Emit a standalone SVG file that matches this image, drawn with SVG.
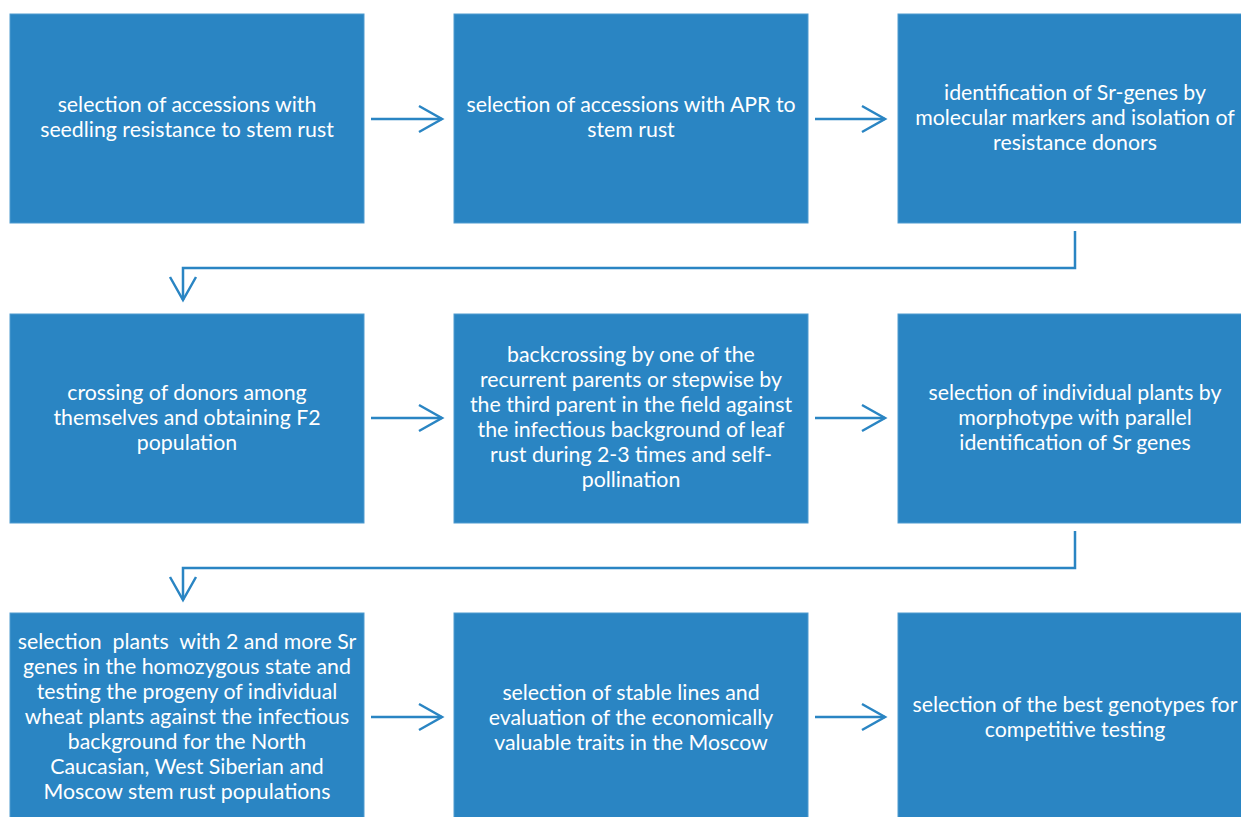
<svg xmlns="http://www.w3.org/2000/svg" width="1241" height="817" viewBox="0 0 1241 817">
<defs>
<style>
.box{fill:#2a85c3;stroke:#4f9bd0;stroke-width:1}
.t{font-family:Lato,"Open Sans",sans-serif;font-size:21.3px;fill:#ffffff;text-anchor:middle}
.c{fill:none;stroke:#2a85c3;stroke-width:2.5}
</style>
<marker id="ah" markerUnits="userSpaceOnUse" markerWidth="30" markerHeight="30" viewBox="0 0 30 30" refX="24" refY="15" orient="auto">
<path d="M1,2 L24,15 L1,28" fill="none" stroke="#2a85c3" stroke-width="2.5"/>
</marker>
</defs>
<rect width="1241" height="817" fill="#ffffff"/>
<g id="n1"><rect class="box" x="10" y="14" width="354" height="209"/>
<text class="t"><tspan x="187" y="112">selection of accessions with</tspan><tspan x="187" y="137">seedling resistance to stem rust</tspan></text></g>
<g id="n2"><rect class="box" x="454" y="14" width="354" height="209"/>
<text class="t"><tspan x="631" y="112">selection of accessions with APR to</tspan><tspan x="631" y="137">stem rust</tspan></text></g>
<g id="n3"><rect class="box" x="898" y="14" width="354" height="209"/>
<text class="t"><tspan x="1075" y="100">identification of Sr-genes by</tspan><tspan x="1075" y="125">molecular markers and isolation of</tspan><tspan x="1075" y="150">resistance donors</tspan></text></g>
<g id="n4"><rect class="box" x="10" y="314" width="354" height="209"/>
<text class="t"><tspan x="187" y="400">crossing of donors among</tspan><tspan x="187" y="425">themselves and obtaining F2</tspan><tspan x="187" y="450">population</tspan></text></g>
<g id="n5"><rect class="box" x="454" y="314" width="354" height="209"/>
<text class="t"><tspan x="631" y="362">backcrossing by one of the</tspan><tspan x="631" y="387">recurrent parents or stepwise by</tspan><tspan x="631" y="412">the third parent in the field against</tspan><tspan x="631" y="437">the infectious background of leaf</tspan><tspan x="631" y="462">rust during 2-3 times and self-</tspan><tspan x="631" y="487">pollination</tspan></text></g>
<g id="n6"><rect class="box" x="898" y="314" width="354" height="209"/>
<text class="t"><tspan x="1075" y="400">selection of individual plants by</tspan><tspan x="1075" y="425">morphotype with parallel</tspan><tspan x="1075" y="450">identification of Sr genes</tspan></text></g>
<g id="n7"><rect class="box" x="10" y="613" width="354" height="215"/>
<text class="t" style="white-space:pre"><tspan x="187" y="649">selection  plants  with 2 and more Sr</tspan><tspan x="187" y="674">genes in the homozygous state and</tspan><tspan x="187" y="699">testing the progeny of individual</tspan><tspan x="187" y="724">wheat plants against the infectious</tspan><tspan x="187" y="749">background for the North</tspan><tspan x="187" y="774">Caucasian, West Siberian and</tspan><tspan x="187" y="799">Moscow stem rust populations</tspan></text></g>
<g id="n8"><rect class="box" x="454" y="613" width="354" height="215"/>
<text class="t"><tspan x="631" y="700">selection of stable lines and</tspan><tspan x="631" y="725">evaluation of the economically</tspan><tspan x="631" y="750">valuable traits in the Moscow</tspan></text></g>
<g id="n9"><rect class="box" x="898" y="613" width="354" height="215"/>
<text class="t"><tspan x="1075" y="712">selection of the best genotypes for</tspan><tspan x="1075" y="737">competitive testing</tspan></text></g>
<g id="connectors">
<path class="c" d="M371,119 H442" marker-end="url(#ah)"/>
<path class="c" d="M815,119 H885" marker-end="url(#ah)"/>
<path class="c" d="M1075,231 V268 H183 V300" marker-end="url(#ah)"/>
<path class="c" d="M371,418 H442" marker-end="url(#ah)"/>
<path class="c" d="M815,418 H885" marker-end="url(#ah)"/>
<path class="c" d="M1075,531 V568 H183 V600" marker-end="url(#ah)"/>
<path class="c" d="M371,717 H442" marker-end="url(#ah)"/>
<path class="c" d="M815,717 H885" marker-end="url(#ah)"/>
</g>
</svg>
